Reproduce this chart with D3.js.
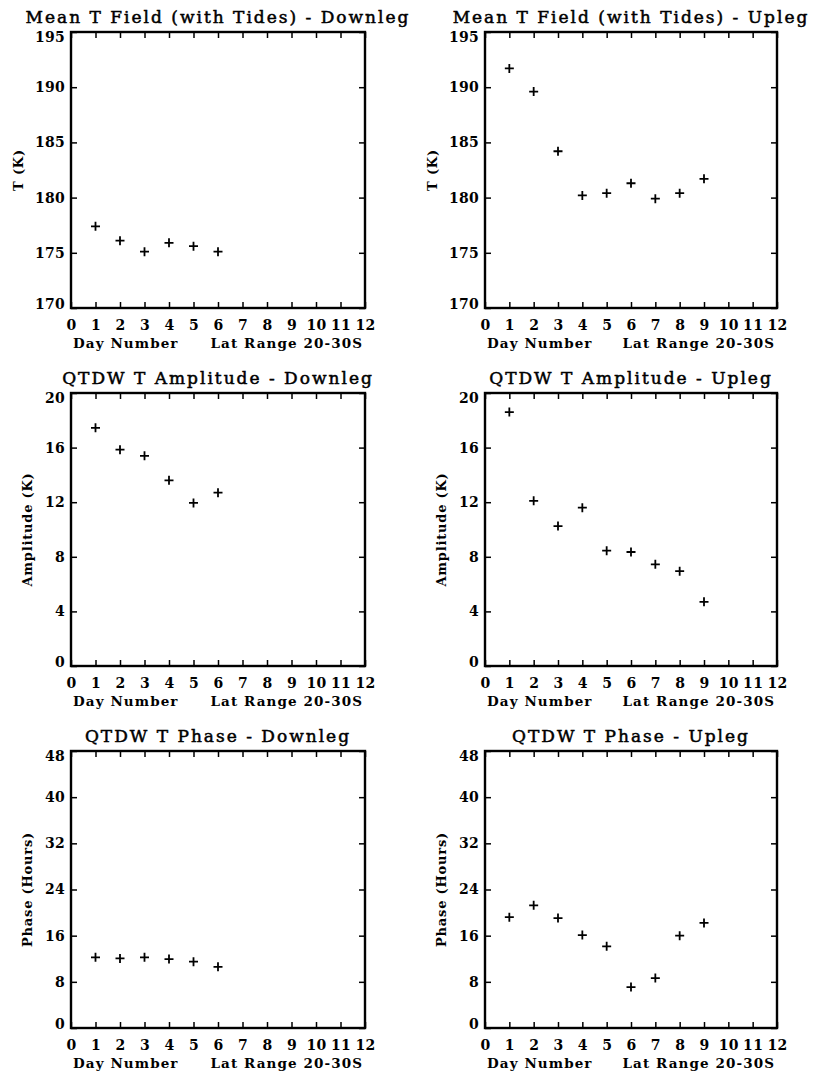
<!DOCTYPE html>
<html>
<head>
<meta charset="utf-8">
<script src="https://cdn.jsdelivr.net/npm/d3@7"></script>
<style>
body { margin: 0; background: #fff; }
</style>
</head>
<body>
<div class="container"></div>
<script>
// values
const daysDown = [1, 2, 3, 4, 5, 6]
const daysUp = [1, 2, 3, 4, 5, 6, 7, 8, 9]

const tDown = [177.4, 176.1, 175.1, 175.9, 175.6, 175.1]
const tUp = [191.7, 189.6, 184.2, 180.2, 180.4, 181.3, 179.9, 180.4, 181.7]
const ampDown = [17.45, 15.85, 15.4, 13.6, 11.95, 12.7]
const ampUp = [18.6, 12.1, 10.25, 11.6, 8.45, 8.35, 7.45, 6.95, 4.7]
const phaseDown = [12.25, 12.05, 12.25, 11.95, 11.5, 10.6]
const phaseUp = [19.2, 21.25, 19.05, 16.1, 14.15, 7.1, 8.65, 16.0, 18.2]

const dayTicks = [0, 1, 2, 3, 4, 5, 6, 7, 8, 9, 10, 11, 12]
const tTicks = [170, 175, 180, 185, 190, 195]
const ampTicks = [0, 4, 8, 12, 16, 20]
const phaseTicks = [0, 8, 16, 24, 32, 40, 48]

const titles = [
    "Mean T Field (with Tides) - Downleg", "Mean T Field (with Tides) - Upleg",
    "QTDW T Amplitude - Downleg", "QTDW T Amplitude - Upleg",
    "QTDW T Phase - Downleg", "QTDW T Phase - Upleg"
]
const yLabels = ["T (K)", "Amplitude (K)", "Phase (Hours)"]
const xLabel = "Day Number"
const latLabel = "Lat Range 20-30S"

const panels = [
    {title: titles[0], ylabel: yLabels[0], days: daysDown, values: tDown, ticks: tTicks, col: 0, row: 0},
    {title: titles[1], ylabel: yLabels[0], days: daysUp, values: tUp, ticks: tTicks, col: 1, row: 0},
    {title: titles[2], ylabel: yLabels[1], days: daysDown, values: ampDown, ticks: ampTicks, col: 0, row: 1},
    {title: titles[3], ylabel: yLabels[1], days: daysUp, values: ampUp, ticks: ampTicks, col: 1, row: 1},
    {title: titles[4], ylabel: yLabels[2], days: daysDown, values: phaseDown, ticks: phaseTicks, col: 0, row: 2},
    {title: titles[5], ylabel: yLabels[2], days: daysUp, values: phaseUp, ticks: phaseTicks, col: 1, row: 2}
]

// frame positions of the 2x3 grid
const cols = [{x0: 71, x1: 365}, {x0: 485, x1: 777}]
const rows = [{y0: 32, y1: 308}, {y0: 393, y1: 666}, {y0: 751, y1: 1028}]

const font = "'DejaVu Serif', serif"

const svg = d3.select(".container")
    .append("svg")
    .attr("width", 814)
    .attr("height", 1072)
    .style("display", "block")

svg.append("rect")
    .attr("width", 814)
    .attr("height", 1072)
    .attr("fill", "white")

panels.forEach(p => {
    const {x0, x1} = cols[p.col]
    const {y0, y1} = rows[p.row]

    const x = d3.scaleLinear()
        .domain(d3.extent(dayTicks))
        .range([x0, x1])

    const y = d3.scaleLinear()
        .domain(d3.extent(p.ticks))
        .range([y1, y0])

    const g = svg.append("g")

    const [yMin, yMax] = d3.extent(p.ticks)

    const styleAxis = sel => {
        sel.select(".domain").remove()
        sel.selectAll(".tick line").attr("stroke", "black").attr("stroke-width", 1.5)
        sel.selectAll("text")
            .attr("fill", "black")
            .attr("font-family", font)
            .attr("font-weight", "bold")
            .attr("font-size", 14)
            .attr("letter-spacing", 0.3)
    }

    // bottom axis with labels, ticks pointing in
    g.append("g")
        .attr("transform", `translate(0,${y1})`)
        .call(d3.axisBottom(x).tickValues(dayTicks).tickSize(-6).tickSizeOuter(0).tickPadding(12))
        .call(styleAxis)

    // top axis, ticks only
    g.append("g")
        .attr("transform", `translate(0,${y0})`)
        .call(d3.axisTop(x).tickValues(dayTicks).tickSize(-6).tickSizeOuter(0).tickFormat(""))
        .call(styleAxis)

    // left axis with labels
    g.append("g")
        .attr("transform", `translate(${x0},0)`)
        .call(d3.axisLeft(y).tickValues(p.ticks).tickSize(-6).tickSizeOuter(0).tickPadding(6))
        .call(styleAxis)
        .call(sel => sel.selectAll("text")
            .attr("y", d => d === yMax ? 5 : d === yMin ? -4 : 0))

    // right axis, ticks only
    g.append("g")
        .attr("transform", `translate(${x1},0)`)
        .call(d3.axisRight(y).tickValues(p.ticks).tickSize(-6).tickSizeOuter(0).tickFormat(""))
        .call(styleAxis)

    // plot frame
    g.append("rect")
        .attr("x", x0)
        .attr("y", y0)
        .attr("width", x1 - x0)
        .attr("height", y1 - y0)
        .attr("fill", "none")
        .attr("stroke", "black")
        .attr("stroke-width", 2.4)

    // plus markers
    g.selectAll(".pt")
        .data(p.days.map((d, i) => ({day: d, value: p.values[i]})))
        .join("path")
        .attr("class", "pt")
        .attr("transform", d => `translate(${x(d.day)},${y(d.value)})`)
        .attr("d", "M-4.5,0H4.5M0,-4.5V4.5")
        .attr("stroke", "black")
        .attr("stroke-width", 1.8)

    // title
    g.append("text")
        .attr("x", (x0 + x1) / 2)
        .attr("y", y0 - 9)
        .attr("text-anchor", "middle")
        .attr("font-family", font)
        .attr("font-size", 17)
        .attr("letter-spacing", 2)
        .attr("stroke", "black")
        .attr("stroke-width", 0.5)
        .text(p.title)

    // x axis titles
    g.append("text")
        .attr("x", x0 + 2)
        .attr("y", y1 + 40)
        .attr("font-family", font)
        .attr("font-weight", "bold")
        .attr("font-size", 13.5)
        .attr("letter-spacing", 1.1)
        .text(xLabel)

    g.append("text")
        .attr("x", x1 - 2)
        .attr("y", y1 + 40)
        .attr("text-anchor", "end")
        .attr("font-family", font)
        .attr("font-weight", "bold")
        .attr("font-size", 13.5)
        .attr("letter-spacing", 1.1)
        .text(latLabel)

    // y axis title, shifted out past the tick labels
    const nd = d3.max(p.ticks, t => String(t).length)
    g.append("text")
        .attr("transform", `translate(${x0 - 26 - 9 * nd},${(y0 + y1) / 2}) rotate(-90)`)
        .attr("text-anchor", "middle")
        .attr("dy", "0.35em")
        .attr("font-family", font)
        .attr("font-weight", "bold")
        .attr("font-size", 13)
        .attr("letter-spacing", 0.8)
        .text(p.ylabel)
})
</script>
</body>
</html>
